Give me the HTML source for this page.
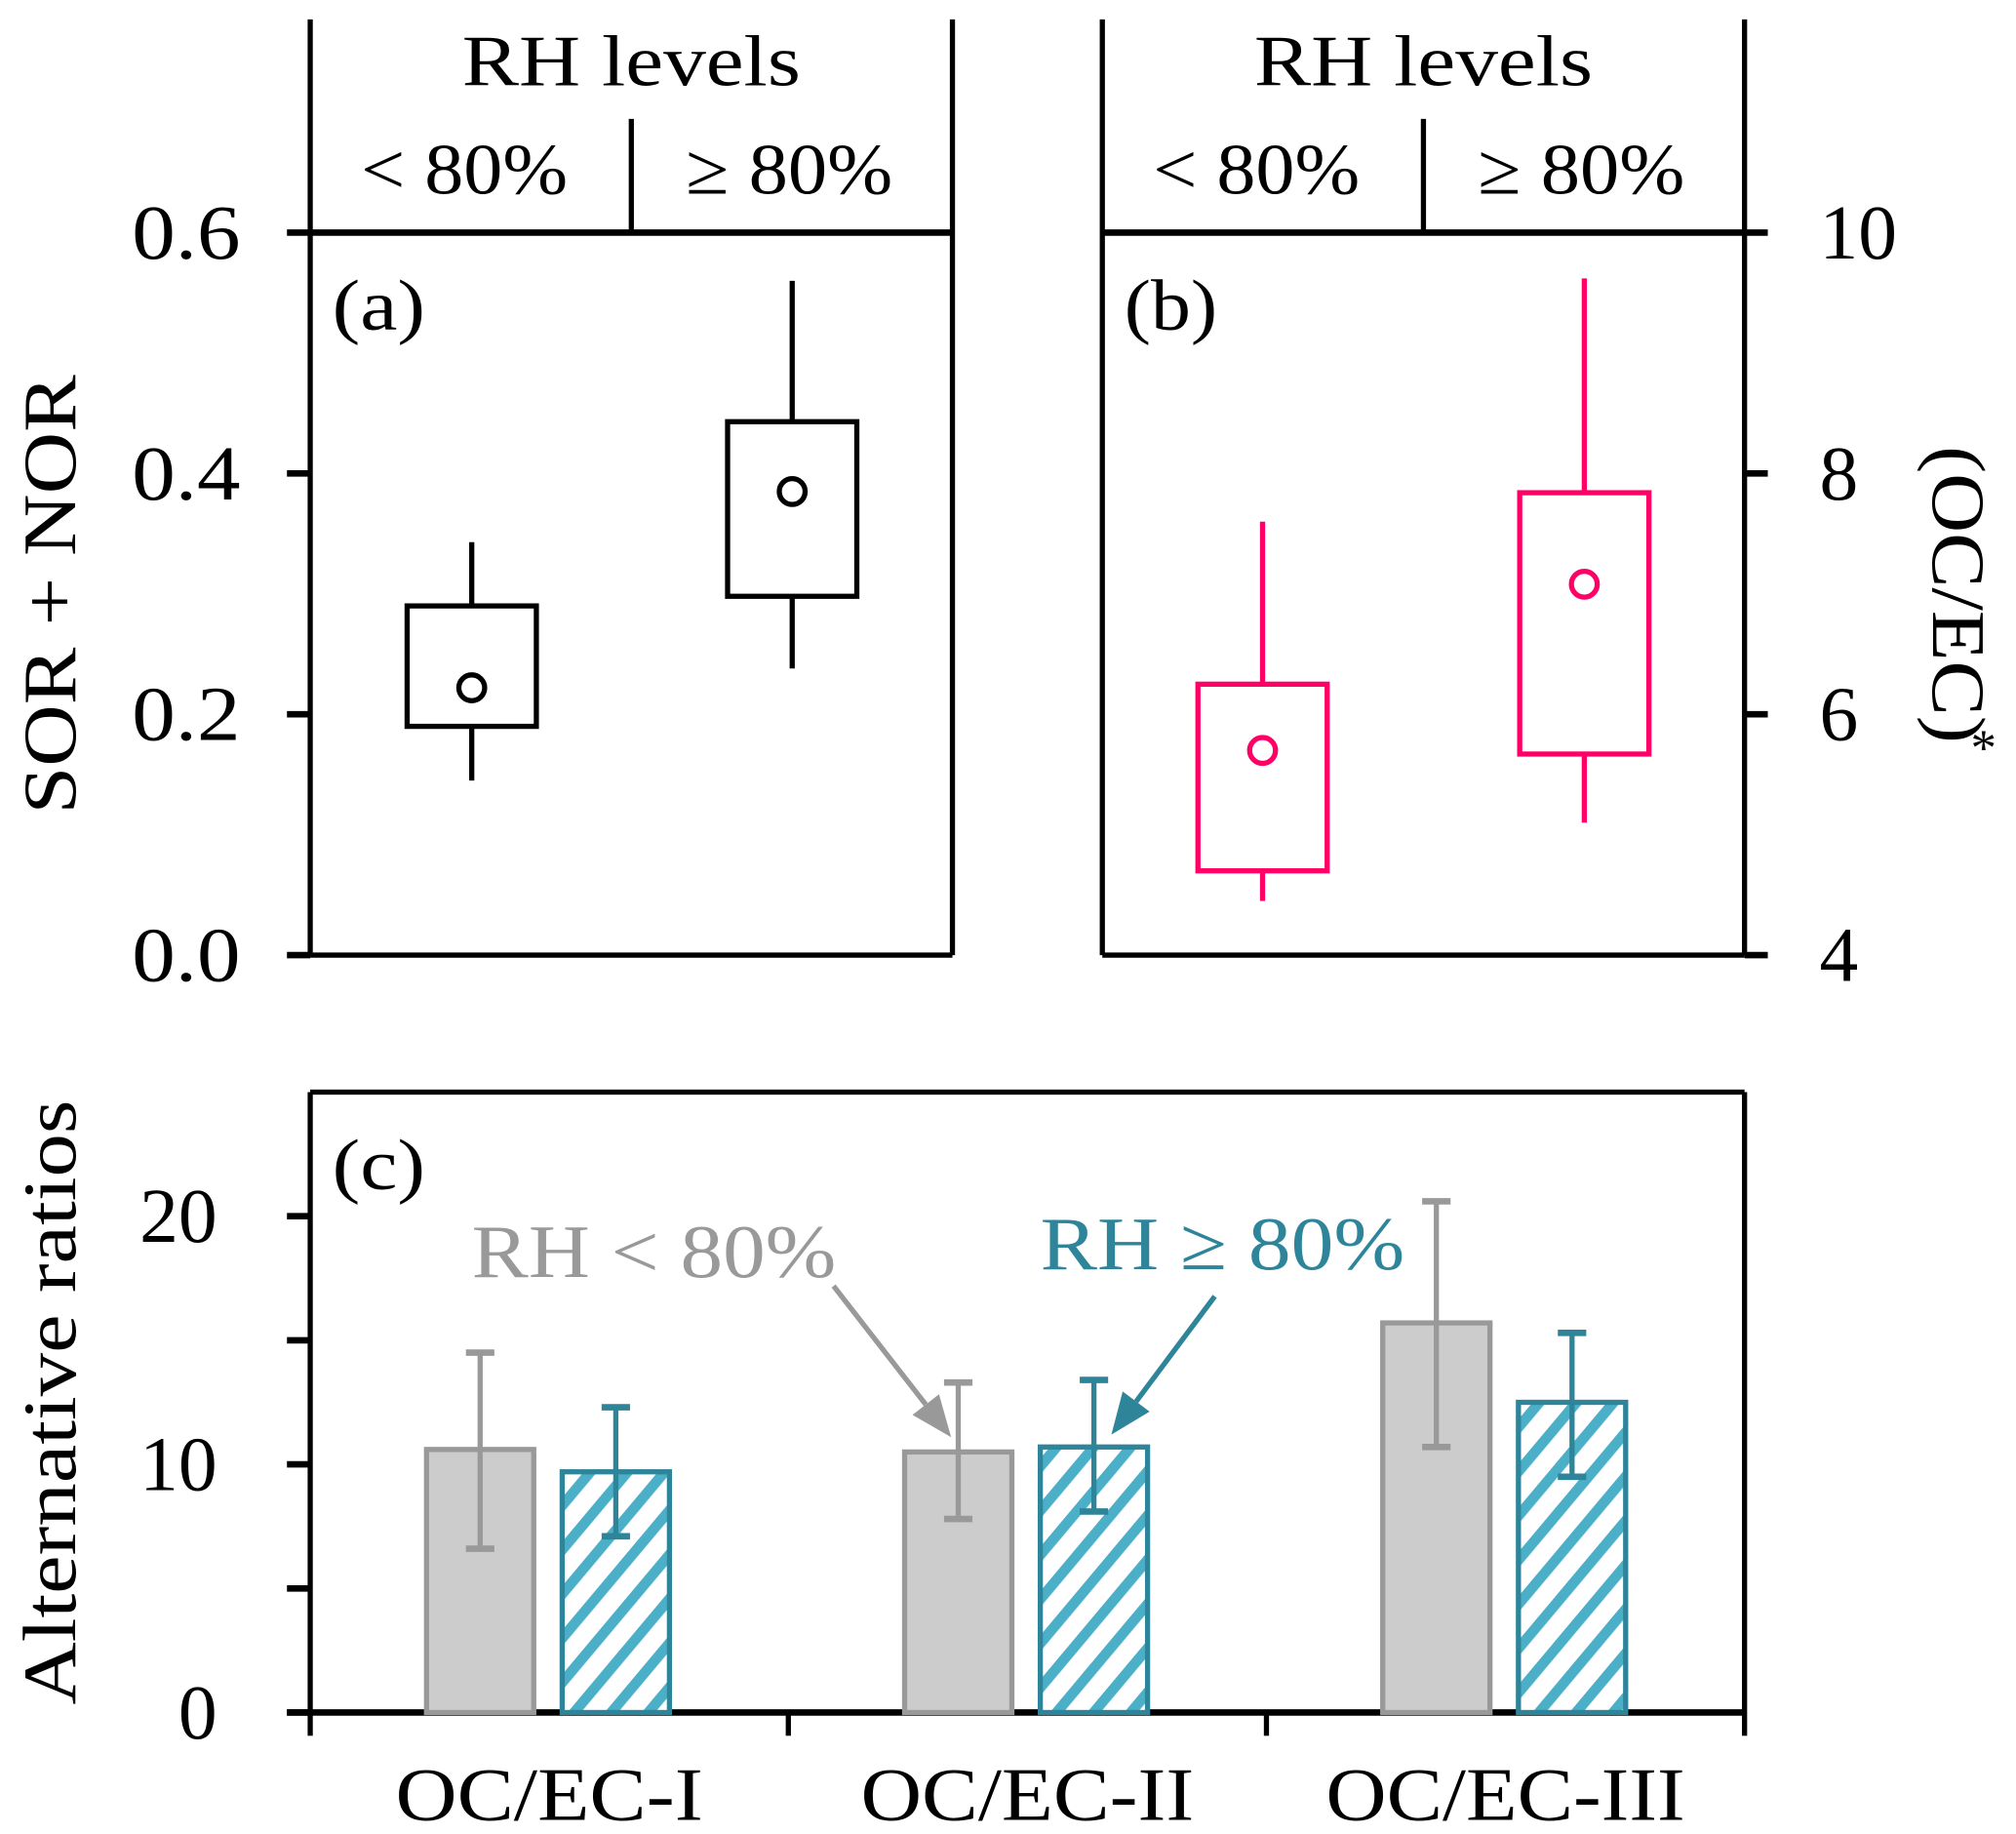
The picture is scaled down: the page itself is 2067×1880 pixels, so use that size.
<!DOCTYPE html>
<html><head><meta charset="utf-8"><style>
html,body{margin:0;padding:0;background:#fff}
svg{display:block}
svg text{font-family:"Liberation Serif","Times New Roman",serif}
</style></head><body>
<svg id="chart" width="2067" height="1880" viewBox="0 0 1560 1419" font-family="Liberation Serif, serif" xmlns="http://www.w3.org/2000/svg">
<defs>
<pattern id="hatch" patternUnits="userSpaceOnUse" width="22" height="22" patternTransform="rotate(40)">
<rect width="22" height="22" fill="#fff"/>
<rect x="0" y="0" width="8" height="22" fill="#4bafc8"/>
</pattern>
</defs>
<g id="g"></g>
</svg>
<script>
// Panel (a): SOR + NOR box stats [whiskerLow, boxLow, boxHigh, whiskerHigh, mean]
const rhGroups = ["< 80%", "≥ 80%"];
const sorLow = [0.145, 0.19, 0.29, 0.343, 0.222];
const sorHigh = [0.238, 0.298, 0.443, 0.56, 0.385];
// Panel (b): (OC/EC)* box stats
const ocecLow = [4.45, 4.7, 6.25, 7.6, 5.7];
const ocecHigh = [5.1, 5.67, 7.84, 9.62, 7.08];
const aTicks = ["0.0", "0.2", "0.4", "0.6"];
const bTicks = ["4", "6", "8", "10"];
// Panel (c)
const cCategories = ["OC/EC-I", "OC/EC-II", "OC/EC-III"];
const grayVals = [10.6, 10.5, 15.7];
const grayErrLo = [6.6, 7.8, 10.7];
const grayErrHi = [14.5, 13.3, 20.6];
const tealVals = [9.7, 10.7, 12.5];
const tealErrLo = [7.1, 8.1, 9.5];
const tealErrHi = [12.3, 13.4, 15.3];
const cTicks = ["0", "10", "20"];

const NS = "http://www.w3.org/2000/svg";
const g = document.getElementById("g");
function mk(tag, attrs, name, inter, txt){
  const e = document.createElementNS(NS, tag);
  for (const k in attrs) e.setAttribute(k, attrs[k]);
  
  
  if (txt !== undefined) e.textContent = txt;
  g.appendChild(e);
  return e;
}
function line(x1,y1,x2,y2,stroke,w,name){ return mk('line',{x1,y1,x2,y2,stroke,'stroke-width':w},name,false); }

const yTop = 180, yBot = 739;
const yA = v => yBot - (v/0.6)*(yBot-yTop);
const yB = v => yBot - ((v-4)/6)*(yBot-yTop);
const cTop = 845, cBot = 1325;
const yC = v => cBot - (v/25)*(cBot-cTop);

[[240,737,'a'],[853,1350,'b']].forEach(([l,r,p])=>{
  line(l,15,l,yBot,'#000',4,'panel-'+p+'-left-axis');
  line(r,15,r,yBot,'#000',4,'panel-'+p+'-right-axis');
  line(l,yTop,r,yTop,'#000',5,'panel-'+p+'-top-line');
  line(l,yBot,r,yBot,'#000',4,'panel-'+p+'-bottom-axis');
  const mid=(l+r)/2;
  line(mid,92,mid,yTop,'#000',4,'panel-'+p+'-rh-divider');
  mk('text',{x:mid,y:66,'font-size':56,'text-anchor':'middle',textLength:262,lengthAdjust:'spacingAndGlyphs'},'panel-'+p+'-rh-title',false,'RH levels');
  mk('text',{x:(l+mid)/2-5,y:150,'font-size':56,'text-anchor':'middle',textLength:160,lengthAdjust:'spacingAndGlyphs'},'panel-'+p+'-rh-low-label',false,rhGroups[0]);
  mk('text',{x:(mid+r)/2-2,y:150,'font-size':56,'text-anchor':'middle',textLength:160,lengthAdjust:'spacingAndGlyphs'},'panel-'+p+'-rh-high-label',false,rhGroups[1]);
  mk('text',{x:l+17,y:255,'font-size':56,textLength:72,lengthAdjust:'spacingAndGlyphs'},'panel-'+p+'-label',false,'('+p+')');
});
aTicks.forEach(t=>{
  const y=yA(parseFloat(t));
  line(222,y,240,y,'#000',5,'y-tick-a');
  mk('text',{x:186,y:y+20,'font-size':60,'text-anchor':'end',textLength:84,lengthAdjust:'spacingAndGlyphs'},'y-tick-label-a',false,t);
});
bTicks.forEach(t=>{
  const y=yB(parseFloat(t));
  line(1350,y,1368,y,'#000',5,'y-tick-b');
  mk('text',{x:1408,y:y+20,'font-size':60,'text-anchor':'start',textLength:t.length*30,lengthAdjust:'spacingAndGlyphs'},'y-tick-label-b',false,t);
});
mk('text',{transform:'translate(58,460) rotate(-90)','font-size':58,'text-anchor':'middle',textLength:340,lengthAdjust:'spacingAndGlyphs'},'y-axis-title-a',false,'SOR + NOR');
mk('text',{transform:'translate(1496,460) rotate(90)','font-size':58,'text-anchor':'middle',textLength:230,lengthAdjust:'spacingAndGlyphs'},'y-axis-title-b',false,'(OC/EC)');
mk('text',{x:1535,y:592,'font-size':40,'text-anchor':'middle'},'y-axis-title-b-star',false,'*');

function box(stats, cx, ys, color, name){
  const w=100;
  line(cx,ys(stats[0]),cx,ys(stats[1]),color,4,name+'-whisker-low');
  line(cx,ys(stats[2]),cx,ys(stats[3]),color,4,name+'-whisker-high');
  mk('rect',{x:cx-w/2,y:ys(stats[2]),width:w,height:ys(stats[1])-ys(stats[2]),fill:'none',stroke:color,'stroke-width':4},name+'-box',false);
  mk('circle',{cx:cx,cy:ys(stats[4]),r:10,fill:'none',stroke:color,'stroke-width':4},name+'-mean',false);
}
box(sorLow,365,yA,'#000','box-a-low');
box(sorHigh,613,yA,'#000','box-a-high');
box(ocecLow,977,yB,'#ff0066','box-b-low');
box(ocecHigh,1226,yB,'#ff0066','box-b-high');

line(240,cTop,240,cBot,'#000',4,'panel-c-left-axis');
line(1350,cTop,1350,cBot,'#000',4,'panel-c-right-axis');
line(240,cTop,1350,cTop,'#000',4,'panel-c-top-line');
line(222,cBot,1350,cBot,'#000',5,'panel-c-x-axis');
[0,5,10,15,20].forEach(v=>{ line(222,yC(v),240,yC(v),'#000',5,'y-tick-c'); });
cTicks.forEach(t=>{
  const y=yC(parseFloat(t));
  mk('text',{x:168,y:y+20,'font-size':60,'text-anchor':'end',textLength:t.length*30,lengthAdjust:'spacingAndGlyphs'},'y-tick-label-c',false,t);
});
mk('text',{transform:'translate(58,1085) rotate(-90)','font-size':58,'text-anchor':'middle',textLength:468,lengthAdjust:'spacingAndGlyphs'},'y-axis-title-c',false,'Alternative ratios');
mk('text',{x:257,y:920,'font-size':56,textLength:72,lengthAdjust:'spacingAndGlyphs'},'panel-c-label',false,'(c)');
const groupW=370;
[0,1,2,3].forEach(i=>{ line(240+i*groupW,cBot,240+i*groupW,1343,'#000',4,'x-tick-c'); });
cCategories.forEach((c,i)=>{
  const gx=240+i*groupW;
  mk('text',{x:gx+groupW/2,y:1408,'font-size':58,'text-anchor':'middle',textLength:i==2?278:i==1?258:238,lengthAdjust:'spacingAndGlyphs'},'x-tick-label',false,c);
  const bw=83;
  const gxL=gx+90, gxR=gx+195;
  mk('rect',{x:gxL,y:yC(grayVals[i]),width:bw,height:cBot-yC(grayVals[i]),fill:'#cccccc',stroke:'#999999','stroke-width':4},'bar-gray-'+(i+1),false);
  mk('rect',{x:gxR,y:yC(tealVals[i]),width:bw,height:cBot-yC(tealVals[i]),fill:'url(#hatch)',stroke:'#2e8499','stroke-width':4},'bar-teal-'+(i+1),false);
  [[gxL+bw/2,grayErrLo[i],grayErrHi[i],'#999999','gray'],[gxR+bw/2,tealErrLo[i],tealErrHi[i],'#2e8499','teal']].forEach(([x,lo,hi,col,n])=>{
    line(x,yC(lo),x,yC(hi),col,4,'error-bar-'+n);
    line(x-11,yC(lo),x+11,yC(lo),col,5,'error-cap-'+n);
    line(x-11,yC(hi),x+11,yC(hi),col,5,'error-cap-'+n);
  });
});
mk('text',{x:365,y:988,'font-size':58,fill:'#999999',textLength:282,lengthAdjust:'spacingAndGlyphs'},'annotation-rh-low',false,'RH < 80%');
mk('text',{x:805,y:982,'font-size':58,fill:'#2e8499',textLength:282,lengthAdjust:'spacingAndGlyphs'},'annotation-rh-high',false,'RH ≥ 80%');
function arrow(x1,y1,x2,y2,col,name){
  const dx=x2-x1, dy=y2-y1, L=Math.hypot(dx,dy), ux=dx/L, uy=dy/L;
  const bx=x2-ux*32, by=y2-uy*32;
  line(x1,y1,bx,by,col,4,name+'-shaft');
  mk('polygon',{points:`${x2},${y2} ${bx-uy*13},${by+ux*13} ${bx+uy*13},${by-ux*13}`,fill:col},name+'-head',false);
}
arrow(645,995,736,1112,'#999999','arrow-rh-low');
arrow(940,1003,860,1110,'#2e8499','arrow-rh-high');
</script>
</body></html>
